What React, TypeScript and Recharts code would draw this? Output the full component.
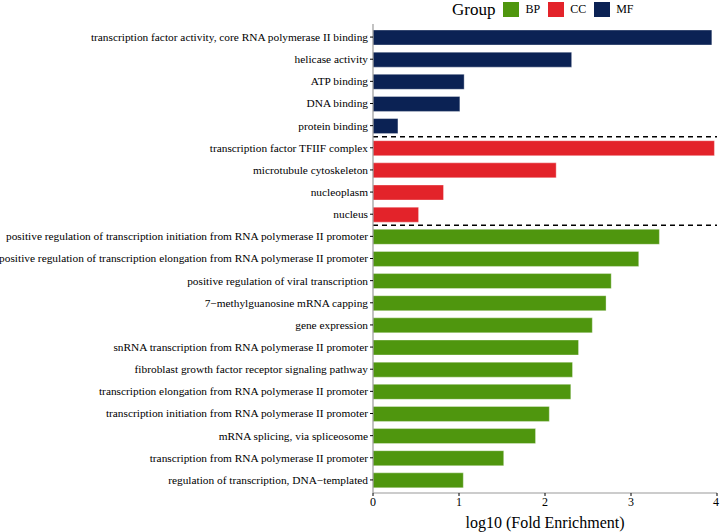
import { BarChart, Bar, Cell, XAxis, YAxis, ReferenceLine } from 'recharts';

const categories = [
  'transcription factor activity, core RNA polymerase II binding',
  'helicase activity',
  'ATP binding',
  'DNA binding',
  'protein binding',
  'transcription factor TFIIF complex',
  'microtubule cytoskeleton',
  'nucleoplasm',
  'nucleus',
  'positive regulation of transcription initiation from RNA polymerase II promoter',
  'positive regulation of transcription elongation from RNA polymerase II promoter',
  'positive regulation of viral transcription',
  '7\u2212methylguanosine mRNA capping',
  'gene expression',
  'snRNA transcription from RNA polymerase II promoter',
  'fibroblast growth factor receptor signaling pathway',
  'transcription elongation from RNA polymerase II promoter',
  'transcription initiation from RNA polymerase II promoter',
  'mRNA splicing, via spliceosome',
  'transcription from RNA polymerase II promoter',
  'regulation of transcription, DNA\u2212templated',
];

const enrichment = [
  3.94, 2.31, 1.06, 1.01, 0.29,
  3.97, 2.13, 0.82, 0.53,
  3.33, 3.09, 2.77, 2.71, 2.55, 2.39, 2.32, 2.30, 2.05, 1.89, 1.52, 1.05,
];

const groups = [
  'MF', 'MF', 'MF', 'MF', 'MF',
  'CC', 'CC', 'CC', 'CC',
  'BP', 'BP', 'BP', 'BP', 'BP', 'BP', 'BP', 'BP', 'BP', 'BP', 'BP', 'BP',
];

const groupNames = ['BP', 'CC', 'MF'];
const groupColors: Record<string, string> = { BP: '#4f960e', CC: '#e3232a', MF: '#0b2254' };
const xTicks = [0, 1, 2, 3, 4];

const data = categories.map((name, i) => ({ name, value: enrichment[i], group: groups[i] }));

const FONT = '"Liberation Serif", "Times New Roman", serif';
const FRAME = '#9a9a9a';

// plain svg text so long GO terms stay on one line
const YTick = ({ x, y, payload }: any) => (
  <text x={x} y={y} dy="0.35em" textAnchor="end" style={{ fontFamily: FONT, fontSize: 11.35 }} fill="#000">
    {payload.value}
  </text>
);

const XTick = ({ x, y, payload }: any) => (
  <text x={x} y={y} dy="0.75em" textAnchor="middle" style={{ fontFamily: FONT, fontSize: 12 }} fill="#000">
    {payload.value}
  </text>
);

const GroupLegend = () => (
  <div
    style={{
      position: 'absolute',
      top: 0,
      left: 452,
      height: 19,
      display: 'flex',
      alignItems: 'center',
      fontFamily: FONT,
      color: '#000',
    }}
  >
    <span style={{ fontSize: 17, marginRight: 8 }}>Group</span>
    {groupNames.map((g) => (
      <span key={g} style={{ display: 'flex', alignItems: 'center', marginRight: 8 }}>
        <span style={{ width: 16, height: 15, background: groupColors[g], display: 'inline-block', marginRight: 6 }} />
        <span style={{ fontSize: 12 }}>{g}</span>
      </span>
    ))}
  </div>
);

export default function App() {
  return (
    <div style={{ position: 'absolute', left: 0, top: 0, width: 720, height: 532, background: '#fff' }}>
      <BarChart
        width={720}
        height={532}
        data={data}
        layout="vertical"
        margin={{ top: 24, right: 3, bottom: 0, left: 0 }}
      >
        <XAxis
          type="number"
          domain={[0, 4]}
          ticks={xTicks}
          height={39}
          tickSize={3}
          tickMargin={1}
          axisLine={{ stroke: FRAME, strokeWidth: 1.2 }}
          tickLine={{ stroke: '#000' }}
          tick={<XTick />}
          label={{
            value: 'log10 (Fold Enrichment)',
            position: 'insideBottom',
            offset: 4,
            fill: '#000',
            fontSize: 16,
            fontFamily: FONT,
          }}
        />
        <XAxis
          xAxisId="top"
          orientation="top"
          type="number"
          domain={[0, 4]}
          height={0}
          tick={false}
          tickLine={false}
          axisLine={{ stroke: FRAME, strokeWidth: 1.2 }}
        />
        <YAxis
          type="category"
          dataKey="name"
          width={373}
          interval={0}
          padding={{ top: 2, bottom: 2 }}
          tickSize={3}
          tickMargin={2}
          axisLine={{ stroke: FRAME, strokeWidth: 1.2 }}
          tickLine={{ stroke: '#000' }}
          tick={<YTick />}
        />
        <YAxis
          yAxisId="right"
          orientation="right"
          type="category"
          dataKey="name"
          width={0}
          tick={false}
          tickLine={false}
          axisLine={{ stroke: FRAME, strokeWidth: 1.2 }}
        />
        <Bar dataKey="value" barSize={15} isAnimationActive={false} stroke="rgba(255,255,255,0.35)" strokeWidth={1}>
          {data.map((d) => (
            <Cell key={d.name} fill={groupColors[d.group]} />
          ))}
        </Bar>
        <ReferenceLine y={categories[4]} position="end" stroke="#000" strokeWidth={1.5} strokeDasharray="5 4" />
        <ReferenceLine y={categories[8]} position="end" stroke="#000" strokeWidth={1.5} strokeDasharray="5 4" />
      </BarChart>
      <GroupLegend />
    </div>
  );
}
